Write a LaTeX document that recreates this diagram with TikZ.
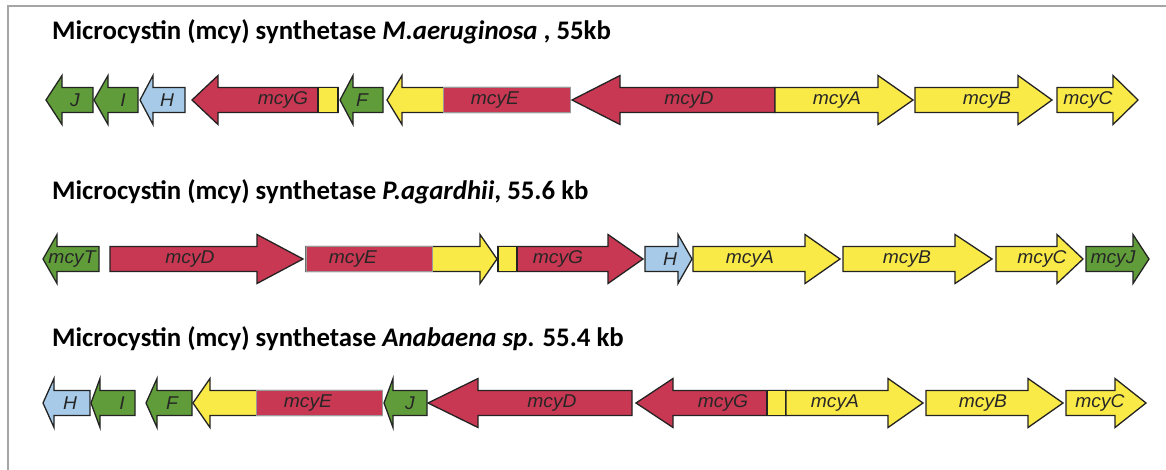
\documentclass[tikz,border=0pt]{standalone}
\usepackage{fontspec}
\setmainfont{Carlito}
\newfontfamily\genefont{Liberation Sans}
\definecolor{ggreen}{RGB}{96,156,58}
\definecolor{gred}{RGB}{200,56,82}
\definecolor{gyellow}{RGB}{250,234,72}
\definecolor{gblue}{RGB}{166,202,232}
\definecolor{goutline}{RGB}{35,35,35}
\definecolor{gframe}{RGB}{165,165,165}
\tikzset{
  genebox/.style={draw=goutline, line width=1.3pt, line join=miter},
  ebox/.style={draw=gray!80, line width=1pt, fill=gred},
  glabel/.style={font=\genefont\itshape\fontsize{18.5}{20}\selectfont, text=black!85, xscale=1.04, inner sep=0pt},
  gtitle/.style={font=\bfseries\fontsize{26.8}{30}\selectfont, anchor=base west, inner sep=0pt}
}
% helper: tail x, head-back x, tip x, centre y, fill
\newcommand{\genearrow}[5]{%
  \draw[genebox, fill=#5] (#1,#4-12.5) -- (#2,#4-12.5) -- (#2,#4-24.5) -- (#3,#4)
    -- (#2,#4+24.5) -- (#2,#4+12.5) -- (#1,#4+12.5) -- cycle;}
\newcommand{\subbox}[4]{% x1, x2, centre y, style
  \draw[#4] (#1,#3-12.5) rectangle (#2,#3+12.5);}
\begin{document}
\begin{tikzpicture}[x=1pt, y=-1pt]
\useasboundingbox (0,0) rectangle (1166,470);
\fill[white] (0,0) rectangle (1166,470);
\draw[gframe, line width=1.5pt] (8,470) -- (8,6) -- (1166,6);

% ---------- titles ----------
\node[gtitle] (t1) at (52,40) {Microcystin (mcy) synthetase \textit{M.aeruginosa} , 55kb};
\node[gtitle] (t2) at (52,200) {Microcystin (mcy) synthetase \textit{P.agardhii}, 55.6 kb};
\node[gtitle] (t3) at (52,346) {Microcystin (mcy) synthetase \textit{Anabaena sp}. 55.4 kb};

% ---------- row 1 ----------
\genearrow{93}{62}{46}{100}{ggreen}
\genearrow{138}{108}{94}{100}{ggreen}
\genearrow{185}{153}{140}{100}{gblue}
\genearrow{338}{218}{192}{100}{gred}
\subbox{318}{338}{100}{genebox, fill=gyellow}
\genearrow{383}{353}{340}{100}{ggreen}
\genearrow{570}{402}{387}{100}{gyellow}
\subbox{443}{570}{100}{ebox}
\genearrow{775}{620}{572}{100}{gred}
\genearrow{775}{878}{913}{100}{gyellow}
\genearrow{915}{1018}{1052}{100}{gyellow}
\genearrow{1057}{1113}{1138}{100}{gyellow}
\node[glabel] (a1) at (75,100) {J};
\node[glabel] (a2) at (123,100) {I};
\node[glabel] (a3) at (167,100) {H};
\node[glabel] (a4) at (283,100) {mcyG};
\node[glabel] (a5) at (362,100) {F};
\node[glabel] (a6) at (495,100) {mcyE};
\node[glabel] (a7) at (689,100) {mcyD};
\node[glabel] (a8) at (837,100) {mcyA};
\node[glabel] (a9) at (987,100) {mcyB};
\node[glabel] (a10) at (1088,100) {mcyC};

% ---------- row 2 ----------
\genearrow{99}{57}{43}{259}{ggreen}
\genearrow{110}{257}{303}{259}{gred}
\genearrow{306}{480}{497}{259}{gyellow}
\subbox{306}{432}{259}{ebox}
\genearrow{498}{608}{643}{259}{gred}
\subbox{498}{517}{259}{genebox, fill=gyellow}
\genearrow{645}{678}{692}{259}{gblue}
\genearrow{693}{805}{840}{259}{gyellow}
\genearrow{843}{955}{992}{259}{gyellow}
\genearrow{996}{1057}{1083}{259}{gyellow}
\genearrow{1086}{1133}{1149}{259}{ggreen}
\node[glabel] (b1) at (72,259) {mcyT};
\node[glabel] (b2) at (190,259) {mcyD};
\node[glabel] (b3) at (353,259) {mcyE};
\node[glabel] (b4) at (558,259) {mcyG};
\node[glabel] (b5) at (670,259) {H};
\node[glabel] (b6) at (750,259) {mcyA};
\node[glabel] (b7) at (907,259) {mcyB};
\node[glabel] (b8) at (1042,259) {mcyC};
\node[glabel] (b9) at (1113,259) {mcyJ};

% ---------- row 3 ----------
\genearrow{90}{54}{43}{403}{gblue}
\genearrow{135}{100}{91}{403}{ggreen}
\genearrow{192}{157}{146}{403}{ggreen}
\genearrow{382}{210}{193}{403}{gyellow}
\subbox{256}{382}{403}{ebox}
\genearrow{427}{393}{384}{403}{ggreen}
\genearrow{632}{478}{428}{403}{gred}
\genearrow{786}{673}{636}{403}{gred}
\subbox{767}{786}{403}{genebox, fill=gyellow}
\genearrow{786}{888}{923}{403}{gyellow}
\genearrow{926}{1028}{1063}{403}{gyellow}
\genearrow{1066}{1115}{1146}{403}{gyellow}
\node[glabel] (c1) at (70,403) {H};
\node[glabel] (c2) at (122,403) {I};
\node[glabel] (c3) at (172,403) {F};
\node[glabel] (c4) at (308,403) {mcyE};
\node[glabel] (c5) at (410,403) {J};
\node[glabel] (c6) at (552,403) {mcyD};
\node[glabel] (c7) at (723,403) {mcyG};
\node[glabel] (c8) at (835,403) {mcyA};
\node[glabel] (c9) at (983,403) {mcyB};
\node[glabel] (c10) at (1100,403) {mcyC};
\end{tikzpicture}
\end{document}
